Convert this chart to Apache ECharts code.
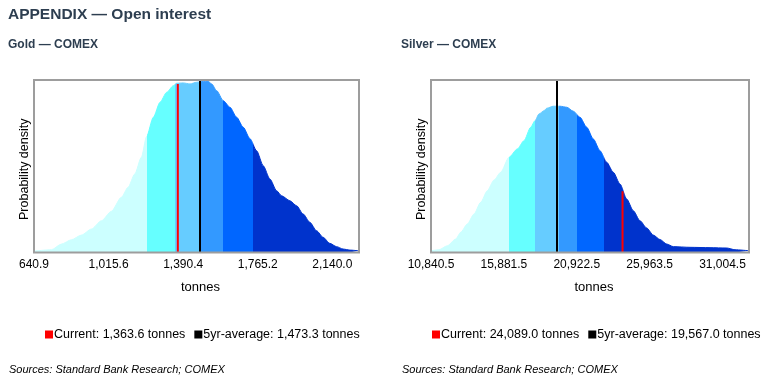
<!DOCTYPE html>
<html>
<head>
<meta charset="utf-8">
<script src="https://cdn.jsdelivr.net/npm/echarts@6/dist/echarts.min.js"></script>
<style>
html,body{margin:0;padding:0;background:#fff;}
#c{width:769px;height:381px;}
</style>
</head>
<body>
<div id="c"></div>
<script>
// ---------- DATA ----------
const bandColors = ['#CCFFFF', '#66FFFF', '#66CCFF', '#3399FF', '#0066FF', '#0033CC'];

// Gold — COMEX (tonnes vs relative density)
const goldX = [640.9, 728.7, 778.9, 829.1, 879.3, 929.5, 979.7, 1029.8, 1080.0, 1113.7, 1147.3, 1180.4, 1206.5, 1240.6, 1274.2, 1307.9, 1341.0, 1358.1, 1391.2, 1424.8, 1458.4, 1491.6, 1516.7, 1533.7, 1558.8, 1591.9, 1625.5, 1659.2, 1692.3, 1725.9, 1759.5, 1792.7, 1826.3, 1859.9, 1885.0, 1926.7, 1960.3, 1993.4, 2027.0, 2060.7, 2093.8, 2127.4, 2161.0, 2194.1, 2227.8, 2269.4];
const goldY = [0.8, 1.6, 4.9, 7.4, 10.1, 13.6, 18.4, 23.9, 32.0, 37.8, 45.5, 55.2, 67.2, 78.4, 87.1, 92.9, 96.7, 98.1, 98.3, 97.7, 98.7, 99.2, 99.2, 97.7, 93.8, 88.0, 84.2, 78.4, 72.6, 66.0, 59.0, 50.3, 42.6, 35.8, 32.9, 30.0, 27.1, 22.3, 17.5, 12.6, 8.8, 5.3, 3.4, 2.0, 1.4, 1.0];
const goldBands = [1208, 1349.5, 1480, 1589, 1742];
const goldTicks = [640.9, 1015.6, 1390.4, 1765.2, 2140.0];
const goldAxisMax = 2274;
const goldCurrent = 1363.6;
const goldCurrentDensity = 97.7;
const goldAverage = 1473.3;

// Silver — COMEX
const silverX = [10840.5, 11394, 11968, 12549, 12895, 13351, 13815, 14278, 14735, 15198, 15662, 16236, 16810, 17273, 17737, 18034, 18311, 18657, 18843, 19300, 19763, 20227, 20683, 21147, 21610, 22067, 22530, 22994, 23450, 23914, 24377, 24834, 25297, 25760, 26217, 26680, 27144, 27600, 28756, 30139, 31294, 31868, 32836];
const silverY = [1.0, 1.6, 3.9, 7.8, 11.7, 16.5, 22.3, 29.1, 35.8, 42.0, 46.5, 55.2, 60.0, 64.8, 72.6, 76.4, 80.3, 82.2, 83.6, 84.8, 84.8, 84.2, 81.9, 78.4, 72.6, 65.8, 59.0, 52.3, 46.5, 39.7, 31.0, 24.2, 18.4, 14.2, 10.1, 7.5, 4.9, 3.4, 3.0, 2.8, 2.6, 1.6, 1.0];
const silverBands = [16236, 18034, 19715, 20960, 22806];
const silverTicks = [10840.5, 15881.5, 20922.5, 25963.5, 31004.5];
const silverAxisMax = 32836;
const silverCurrent = 24089.0;
const silverCurrentDensity = 35.5;
const silverAverage = 19567.0;

// ---------- BUILD ----------
const FONT = '"Liberation Sans", Arial, Helvetica, sans-serif';
const fmt = v => Number(v).toLocaleString('en-US', {minimumFractionDigits: 1, maximumFractionDigits: 1});
const pairs = (xs, ys) => xs.map((x, i) => [x, ys[i]]);
function pieces(b) {
  return bandColors.map((c, i) => {
    if (i === 0) return {lt: b[0], color: c};
    if (i === bandColors.length - 1) return {gte: b[i - 1], color: c};
    return {gte: b[i - 1], lt: b[i], color: c};
  });
}

const grids = [
  {left: 34, top: 80, width: 325, height: 172.5},
  {left: 431, top: 80, width: 318, height: 172.5}
].map(g => Object.assign(g, {show: true, z: 10, backgroundColor: 'transparent', borderColor: '#9d9d9d', borderWidth: 2, containLabel: false, outerBoundsMode: 'none'}));

function xAxis(idx, ticks, max) {
  return {
    type: 'value', gridIndex: idx, min: ticks[0], max: max,
    axisLine: {show: false}, axisTick: {show: false}, splitLine: {show: false},
    axisLabel: {customValues: ticks, formatter: v => fmt(v), color: '#000', fontSize: 12, margin: 6, fontFamily: FONT},
    name: 'tonnes', nameLocation: 'middle', nameGap: 28,
    nameTextStyle: {color: '#000', fontSize: 13, fontFamily: FONT, padding: [0, 0, 0, 8]}
  };
}
function yAxis(idx) {
  return {
    type: 'value', gridIndex: idx, min: 0, max: 100,
    axisLine: {show: false}, axisTick: {show: false}, splitLine: {show: false}, axisLabel: {show: false},
    name: 'Probability density', nameLocation: 'middle', nameGap: 3,
    nameTextStyle: {color: '#000', fontSize: 12.5, fontFamily: FONT, padding: [0, 6, 0, 0]}
  };
}

const goldCurName = 'Current: ' + fmt(goldCurrent) + ' tonnes';
const goldAvgName = '5yr-average: ' + fmt(goldAverage) + ' tonnes';
const silverCurName = 'Current: ' + fmt(silverCurrent) + ' tonnes';
const silverAvgName = '5yr-average: ' + fmt(silverAverage) + ' tonnes';

function densitySeries(idx, xs, ys) {
  return {
    type: 'line', name: 'density' + idx, xAxisIndex: idx, yAxisIndex: idx,
    data: pairs(xs, ys), showSymbol: false, symbol: 'none', smooth: 0.25, smoothMonotone: 'x',
    lineStyle: {width: 1}, areaStyle: {opacity: 1}, silent: true, z: 2
  };
}
function currentSeries(idx, name, x, d) {
  return {
    type: 'line', name: name, xAxisIndex: idx, yAxisIndex: idx,
    data: [[x, 0], [x, d]], showSymbol: false, symbol: 'none', silent: true, z: 4,
    lineStyle: {color: '#FF0000', width: 2}, itemStyle: {color: '#FF0000'}
  };
}
function averageSeries(idx, name, x) {
  return {
    type: 'line', name: name, xAxisIndex: idx, yAxisIndex: idx, data: [],
    itemStyle: {color: '#000'}, lineStyle: {color: '#000'}, silent: true, z: 5,
    markLine: {
      silent: true, symbol: ['none', 'none'], animation: false,
      label: {show: false}, lineStyle: {color: '#000', width: 2, type: 'solid'},
      emphasis: {disabled: true},
      data: [{xAxis: x}]
    }
  };
}

const titleColor = '#2D3E50';
const legendText = {color: '#000', fontSize: 12.5, fontFamily: FONT, padding: [0, 0, 0, -4]};
const option = {
  animation: false,
  textStyle: {fontFamily: FONT},
  title: [
    {text: 'APPENDIX — Open interest', left: 8, top: 7, padding: 0, textStyle: {fontSize: 15.5, fontWeight: 'bold', color: titleColor, fontFamily: FONT}},
    {text: 'Gold — COMEX', left: 8, top: 39, padding: 0, textStyle: {fontSize: 12, fontWeight: 'bold', color: titleColor, fontFamily: FONT}},
    {text: 'Silver — COMEX', left: 401, top: 39, padding: 0, textStyle: {fontSize: 12, fontWeight: 'bold', color: titleColor, fontFamily: FONT}},
    {text: 'Sources: Standard Bank Research; COMEX', left: 9, top: 364, padding: 0, textStyle: {fontSize: 11, fontStyle: 'italic', fontWeight: 'normal', color: '#000', fontFamily: FONT}},
    {text: 'Sources: Standard Bank Research; COMEX', left: 402, top: 364, padding: 0, textStyle: {fontSize: 11, fontStyle: 'italic', fontWeight: 'normal', color: '#000', fontFamily: FONT}}
  ],
  grid: grids,
  xAxis: [xAxis(0, goldTicks, goldAxisMax), xAxis(1, silverTicks, silverAxisMax)],
  yAxis: [yAxis(0), yAxis(1)],
  visualMap: [
    {type: 'piecewise', show: false, dimension: 0, seriesIndex: 0, pieces: pieces(goldBands)},
    {type: 'piecewise', show: false, dimension: 0, seriesIndex: 3, pieces: pieces(silverBands)}
  ],
  legend: [
    {data: [goldCurName, goldAvgName], left: 45, top: 328, padding: 0, icon: 'rect', itemWidth: 8, itemHeight: 8, itemGap: 9, selectedMode: false, textStyle: legendText},
    {data: [silverCurName, silverAvgName], left: 432, top: 328, padding: 0, icon: 'rect', itemWidth: 8, itemHeight: 8, itemGap: 9, selectedMode: false, textStyle: legendText}
  ],
  series: [
    densitySeries(0, goldX, goldY),
    currentSeries(0, goldCurName, goldCurrent, goldCurrentDensity),
    averageSeries(0, goldAvgName, goldAverage),
    densitySeries(1, silverX, silverY),
    currentSeries(1, silverCurName, silverCurrent, silverCurrentDensity),
    averageSeries(1, silverAvgName, silverAverage)
  ]
};

const chart = echarts.init(document.getElementById('c'), null, {renderer: 'canvas'});
chart.setOption(option);
</script>
</body>
</html>
